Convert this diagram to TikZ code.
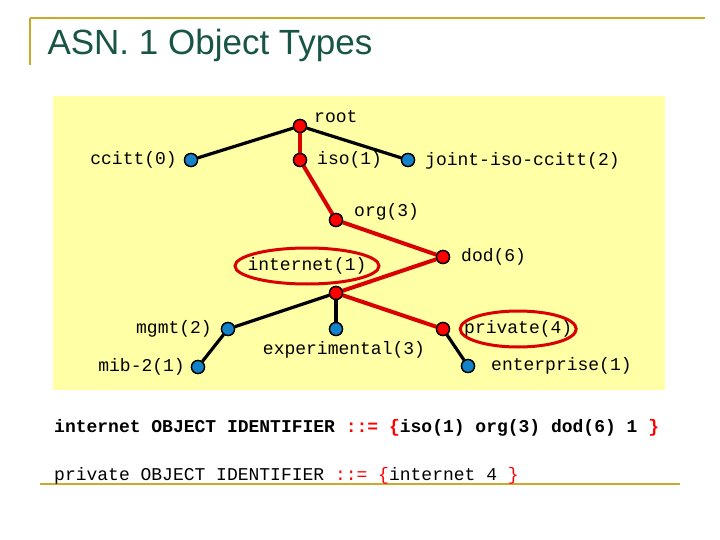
\documentclass[tikz,border=0pt]{standalone}
\usepackage{fontspec}
\setmainfont{Liberation Sans}
\setmonofont{Liberation Mono}
\definecolor{gold}{RGB}{204,170,40}
\definecolor{pale}{RGB}{255,255,165}
\definecolor{dot}{RGB}{20,130,200}
\definecolor{titlec}{RGB}{25,85,70}
\tikzset{
  leaf/.style={circle, draw=black, line width=1.3pt, fill=dot, inner sep=0pt, minimum size=13pt},
  hot/.style={leaf, fill=red},
  lbl/.style={font=\fontsize{18}{21}\selectfont\ttfamily, inner sep=1pt},
  edge/.style={line width=3.2pt},
  path/.style={line width=4pt, red!85!black},
}
\begin{document}
\begin{tikzpicture}[x=1pt,y=-1pt]
\useasboundingbox (0,0) rectangle (720,540);
% frame
\draw [gold, line width=2.5pt] (30,18) -- (705,18);
\draw [gold, line width=2.5pt] (30,18) -- (30,65);
\draw [gold, line width=2.5pt] (40,484) -- (680,484);
\node [anchor=west, text=titlec, font=\fontsize{35}{40}\selectfont] (title) at (44,45) {ASN. 1 Object Types};
\fill [pale] (53,96) rectangle (665,390);
% tree
\node [hot] (root) at (300,126) {};
\node [leaf] (ccitt) at (191,160) {};
\node [hot] (iso) at (300,160) {};
\node [leaf] (joint) at (408,160) {};
\node [hot] (org) at (336,220) {};
\node [hot] (dod) at (443,257) {};
\node [hot] (internet) at (336,293) {};
\node [leaf] (mgmt) at (228,329) {};
\node [leaf] (exper) at (336,329) {};
\node [hot] (private) at (443,329) {};
\node [leaf] (mib) at (198,367) {};
\node [leaf] (enter) at (468,366) {};
\draw [edge] (root) -- (ccitt);
\draw [edge] (root) -- (joint);
\draw [path] (root) -- (iso);
\draw [path] (iso) -- (org);
\draw [path] (org) -- (dod);
\draw [path] (dod) -- (internet);
\draw [edge] (internet) -- (mgmt);
\draw [edge] (internet) -- (exper);
\draw [path] (internet) -- (private);
\draw [edge] (mgmt) -- (mib);
\draw [edge] (private) -- (enter);
% redraw dots on top
\foreach \n/\s in {root/hot, ccitt/leaf, iso/hot, joint/leaf, org/hot, dod/hot, internet/hot, mgmt/leaf, exper/leaf, private/hot, mib/leaf, enter/leaf}
  \node [\s] at (\n) {};
% labels
\node [lbl, anchor=west] (lroot) at (313,117) {root};
\node [lbl, anchor=east] (lccitt) at (178,160) {ccitt(0)};
\node [lbl, anchor=west] (liso) at (316,160) {iso(1)};
\node [lbl, anchor=west] (ljoint) at (424,161) {joint-iso-ccitt(2)};
\node [lbl, anchor=west] (lorg) at (353,212) {org(3)};
\node [lbl, anchor=west] (ldod) at (460,257) {dod(6)};
\node [lbl] (linternet) at (307,266) {internet(1)};
\node [lbl, anchor=east] (lmgmt) at (213,329) {mgmt(2)};
\node [lbl] (lexper) at (344,350) {experimental(3)};
\node [lbl, anchor=west] (lprivate) at (463,329) {private(4)};
\node [lbl, anchor=east] (lmib) at (186,367) {mib-2(1)};
\node [lbl, anchor=west] (lenter) at (490,366) {enterprise(1)};
\draw [red!85!black, line width=3pt] (linternet) ellipse (72pt and 18pt);
\draw [red!85!black, line width=3pt] (lprivate.center) ellipse (58pt and 18pt);
% definitions
\node [lbl, anchor=west, font=\fontsize{18}{21}\selectfont\ttfamily\bfseries] (def1) at (53,428)
  {internet OBJECT IDENTIFIER \textcolor{red}{::= \{}iso(1) org(3) dod(6) 1 \textcolor{red}{\}}};
\node [lbl, anchor=west] (def2) at (53,476)
  {private OBJECT IDENTIFIER \textcolor{red}{::= \{}internet 4 \textcolor{red}{\}}};
\end{tikzpicture}
\end{document}
